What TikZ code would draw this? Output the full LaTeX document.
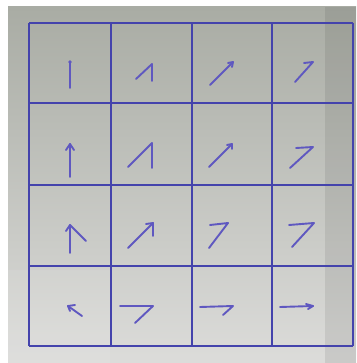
\documentclass[tikz,border=0pt]{standalone}
\usetikzlibrary{arrows.meta}
\definecolor{gridblue}{HTML}{4443AC}
\definecolor{vecblue}{HTML}{5F58C0}
\definecolor{bgtop}{HTML}{A9ACA4}
\definecolor{bgbottom}{HTML}{DCDCDA}

\begin{document}
\begin{tikzpicture}[x=1pt,y=-1pt,
  cellline/.style={gridblue,line width=1.8pt},
  vec/.style={vecblue,line width=1.9pt,line cap=round,line join=round}]
\useasboundingbox (0,0) rectangle (356,363);
\fill[white] (0,0) rectangle (356,363);
\shade[top color=bgtop,bottom color=bgbottom] (8,7) rectangle (356,363);
\fill[black,opacity=0.08] (325,7) rectangle (356,363);
\fill[white,opacity=0.08] (8,270) rectangle (110,363);

% cells
\foreach \x in {29,111,192,272,353}
  \draw[cellline] (\x,23) -- (\x,346);
\foreach \y in {23,103,185,266,346}
  \draw[cellline] (29,\y) -- (353,\y);

% row 1
\draw[vec] (70,88) -- (70,62);
\fill[vecblue] (70,62) circle (1.8);
\draw[vec] (136,79) -- (152,64) -- (152,81);
\draw[vec] (210,85) -- (233,62);
\draw[vec] (228,63) -- (233,62) -- (232,67);
\draw[vec] (295,82) -- (313,62) -- (304,63);

% row 2
\draw[vec] (70,177) -- (70,144);
\draw[vec] (66,150) -- (70,144) -- (74,150);
\draw[vec] (128,167) -- (152,143) -- (152,168);
\draw[vec] (209,167) -- (231,145);
\draw[vec] (227,145) -- (232,144) -- (232,149);
\draw[vec] (296,148) -- (313,147) -- (290,168);

% row 3
\draw[vec] (70,253) -- (70,225);
\draw[vec] (66,231) -- (70,225) -- (86,241);
\draw[vec] (128,248) -- (153,223);
\draw[vec] (146,224) -- (153,223) -- (153,236);
\draw[vec] (210,225) -- (228,223) -- (209,248);
\draw[vec] (289,225) -- (314,223) -- (292,247);

% row 4
\draw[vec] (82,316) -- (68,306);
\draw[vec] (75,305) -- (68,306) -- (70,311);
\draw[vec] (120,306) -- (153,306) -- (135,323);
\draw[vec] (200,307) -- (233,306) -- (223,315);
\draw[vec] (280,307) -- (313,306);
\draw[vec] (306,304) -- (313,306) -- (308,309);
\end{tikzpicture}
\end{document}
